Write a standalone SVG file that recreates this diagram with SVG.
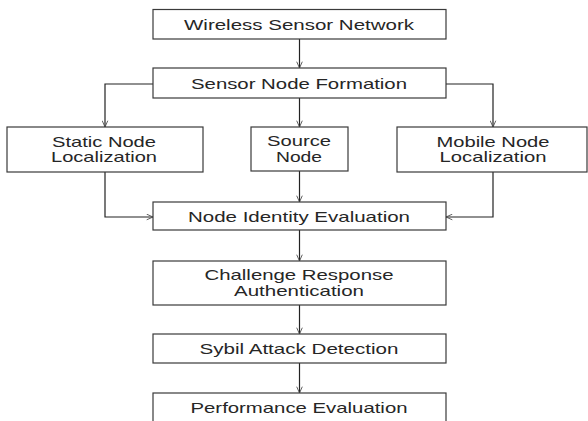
<svg xmlns="http://www.w3.org/2000/svg" width="588" height="421" viewBox="0 0 588 421">
<style>
.box{fill:#fff;stroke:#3a3a3a;stroke-width:1.2}
.t{font-family:"Liberation Sans",Arial,sans-serif;font-size:14.5px;fill:#262626;text-anchor:middle}
.c{fill:none;stroke:#222;stroke-width:1.2}
</style>
<defs>
<marker id="ah" viewBox="0 0 10 10" refX="10" refY="5" markerWidth="7" markerHeight="7" markerUnits="userSpaceOnUse" orient="auto">
<path d="M1,1 L10,5 L1,9" fill="none" stroke="#444" stroke-width="1.2"/>
</marker>
</defs>
<rect width="588" height="421" fill="#fff"/>
<g id="connectors">
<path class="c" d="M299.5,39 V68" marker-end="url(#ah)"/>
<path class="c" d="M153,84 H105 V127" marker-end="url(#ah)"/>
<path class="c" d="M299.5,98 V127" marker-end="url(#ah)"/>
<path class="c" d="M446,84 H493 V127" marker-end="url(#ah)"/>
<path class="c" d="M105,172 V217 H153" marker-end="url(#ah)"/>
<path class="c" d="M299.5,171 V202" marker-end="url(#ah)"/>
<path class="c" d="M493,172 V217 H446" marker-end="url(#ah)"/>
<path class="c" d="M299.5,230 V261" marker-end="url(#ah)"/>
<path class="c" d="M299.5,305 V334" marker-end="url(#ah)"/>
<path class="c" d="M299.5,363 V393" marker-end="url(#ah)"/>
</g>
<g id="wsn">
<rect class="box" x="153" y="9.5" width="293" height="29.5"/>
<text class="t" x="299" y="29.5" textLength="230" lengthAdjust="spacingAndGlyphs">Wireless Sensor Network</text>
</g>
<g id="snf">
<rect class="box" x="153" y="68" width="293" height="30"/>
<text class="t" x="299" y="88.5" textLength="216" lengthAdjust="spacingAndGlyphs">Sensor Node Formation</text>
</g>
<g id="static">
<rect class="box" x="7" y="127" width="196" height="45"/>
<text class="t" x="104" y="146.5" textLength="104" lengthAdjust="spacingAndGlyphs">Static Node</text>
<text class="t" x="104" y="162" textLength="106" lengthAdjust="spacingAndGlyphs">Localization</text>
</g>
<g id="source">
<rect class="box" x="251" y="127" width="97" height="44"/>
<text class="t" x="299" y="146" textLength="64" lengthAdjust="spacingAndGlyphs">Source</text>
<text class="t" x="299" y="161.5" textLength="46" lengthAdjust="spacingAndGlyphs">Node</text>
</g>
<g id="mobile">
<rect class="box" x="397" y="127" width="190" height="45"/>
<text class="t" x="493" y="146.5" textLength="113" lengthAdjust="spacingAndGlyphs">Mobile Node</text>
<text class="t" x="493" y="162" textLength="107" lengthAdjust="spacingAndGlyphs">Localization</text>
</g>
<g id="nie">
<rect class="box" x="153" y="202" width="293" height="28"/>
<text class="t" x="299" y="221.5" textLength="222" lengthAdjust="spacingAndGlyphs">Node Identity Evaluation</text>
</g>
<g id="cra">
<rect class="box" x="153" y="261" width="293" height="44"/>
<text class="t" x="299" y="279.5" textLength="189" lengthAdjust="spacingAndGlyphs">Challenge Response</text>
<text class="t" x="299" y="295.5" textLength="130" lengthAdjust="spacingAndGlyphs">Authentication</text>
</g>
<g id="sad">
<rect class="box" x="153" y="334" width="293" height="29"/>
<text class="t" x="299" y="354" textLength="199" lengthAdjust="spacingAndGlyphs">Sybil Attack Detection</text>
</g>
<g id="pe">
<rect class="box" x="153" y="393" width="293" height="35"/>
<text class="t" x="299" y="413" textLength="217" lengthAdjust="spacingAndGlyphs">Performance Evaluation</text>
</g>
</svg>
